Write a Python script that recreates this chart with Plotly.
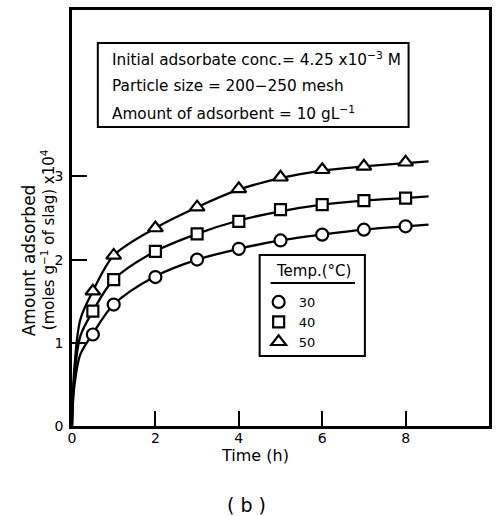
import plotly.graph_objects as go

# ---- data ----
time_pts = [0.5, 1, 2, 3, 4, 5, 6, 7, 8]
amt_30 = [1.10, 1.46, 1.79, 2.00, 2.13, 2.23, 2.30, 2.36, 2.40]
amt_40 = [1.38, 1.76, 2.10, 2.31, 2.46, 2.60, 2.66, 2.71, 2.74]
amt_50 = [1.62, 2.05, 2.38, 2.63, 2.85, 2.99, 3.08, 3.12, 3.17]

curve_t = [0, 0.05, 0.2, 0.5, 1, 2, 3, 4, 5, 6, 7, 8, 8.55]
curve_30 = [0, 0.45, 0.86, 1.11, 1.46, 1.80, 2.00, 2.13, 2.23, 2.30, 2.36, 2.40, 2.42]
curve_40 = [0, 0.55, 1.08, 1.38, 1.76, 2.10, 2.31, 2.47, 2.58, 2.66, 2.71, 2.74, 2.76]
curve_50 = [0, 0.65, 1.28, 1.62, 2.05, 2.38, 2.63, 2.84, 2.98, 3.07, 3.12, 3.16, 3.18]

temps = ["30", "40", "50"]
symbols = ["circle", "square", "triangle-up"]
x_ticks = [0, 2, 4, 6, 8]
y_ticks = [0, 1, 2, 3]

FONT = "DejaVu Sans"
W, H = 496, 516
L, R, T, B = 72, 492, 10, 426  # plot area pixel box

def px(xp):
    return (xp - L) / (R - L)

def py(yp):
    return (B - yp) / (B - T)

fig = go.Figure()

for cv in [curve_30, curve_40, curve_50]:
    fig.add_trace(go.Scatter(x=curve_t, y=cv, mode="lines",
                             line=dict(color="black", width=2.3, shape="spline", smoothing=0.9),
                             showlegend=False, hoverinfo="skip"))

sizes = [12, 11, 13]
for name, vals, sym, sz in zip(temps, [amt_30, amt_40, amt_50], symbols, sizes):
    fig.add_trace(go.Scatter(x=time_pts, y=vals, mode="markers", name=name,
                             marker=dict(symbol=sym, size=sz, color="white",
                                         line=dict(color="black", width=2.2))))

shapes = [
    # info box
    dict(type="rect", xref="paper", yref="paper", x0=px(98), x1=px(411), y0=py(127), y1=py(43),
         line=dict(color="black", width=2)),
    # legend box
    dict(type="rect", xref="paper", yref="paper", x0=px(261), x1=px(367), y0=py(356), y1=py(255),
         line=dict(color="black", width=2)),
    # legend title underline
    dict(type="line", xref="paper", yref="paper", x0=px(272), x1=px(357), y0=py(283), y1=py(283),
         line=dict(color="black", width=2)),
]

info_lines = [
    "Initial adsorbate conc.= 4.25 x10<sup>\u22123</sup> M",
    "Particle size = 200\u2212250 mesh",
    "Amount of adsorbent = 10 gL<sup>\u22121</sup>",
]
info_y = [59, 86, 113]

annotations = []
for txt, yy in zip(info_lines, info_y):
    annotations.append(dict(text=txt, xref="paper", yref="paper", x=px(110), y=py(yy),
                            xanchor="left", yanchor="middle", showarrow=False,
                            font=dict(family=FONT, size=15.3, color="black")))

annotations += [
    dict(text="Temp.(\u00b0C)", xref="paper", yref="paper", x=px(315), y=py(271),
         xanchor="center", yanchor="middle", showarrow=False,
         font=dict(family=FONT, size=15, color="black")),
    dict(text="Amount adsorbed", xref="paper", yref="paper", x=px(29), y=py(260),
         xanchor="center", yanchor="middle", showarrow=False, textangle=-90,
         font=dict(family=FONT, size=17, color="black")),
    dict(text="(moles g<sup>\u22121</sup> of slag) x10<sup>4</sup>", xref="paper", yref="paper",
         x=px(48), y=py(240), xanchor="center", yanchor="middle", showarrow=False, textangle=-90,
         font=dict(family=FONT, size=15, color="black")),
    dict(text="Time (h)", xref="paper", yref="paper", x=px(256), y=py(455),
         xanchor="center", yanchor="middle", showarrow=False,
         font=dict(family=FONT, size=16, color="black")),
    dict(text="( b )", xref="paper", yref="paper", x=px(248), y=py(505),
         xanchor="center", yanchor="middle", showarrow=False,
         font=dict(family=FONT, size=19, color="black")),
]

axis_common = dict(showgrid=False, zeroline=False, showline=True, linecolor="black", linewidth=2.5,
                   mirror=True, ticks="inside", ticklen=15, tickwidth=2.3, tickcolor="black",
                   tickfont=dict(family=FONT, size=14, color="black"))

fig.update_layout(
    width=W, height=H,
    margin=dict(l=L, r=W - R, t=T, b=H - B),
    paper_bgcolor="white", plot_bgcolor="white",
    xaxis=dict(range=[0, 10], tickvals=x_ticks, ticktext=[str(v) for v in x_ticks],
               ticklabelstandoff=-3, **axis_common),
    yaxis=dict(range=[0, 5], tickvals=y_ticks, ticktext=[str(v) for v in y_ticks],
               ticklabelstandoff=3, **axis_common),
    shapes=shapes,
    annotations=annotations,
    showlegend=True,
    legend=dict(x=px(260), y=py(287), xanchor="left", yanchor="top",
                bgcolor="rgba(0,0,0,0)", borderwidth=0, tracegroupgap=0,
                font=dict(family=FONT, size=13, color="black")),
)

fig.write_html("out.html")
